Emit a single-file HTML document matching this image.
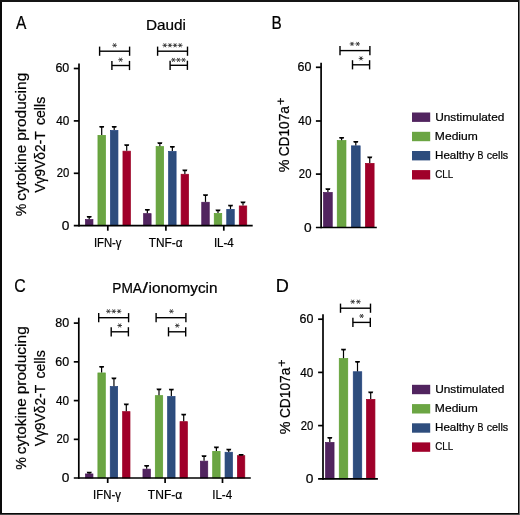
<!DOCTYPE html><html><head><meta charset="utf-8"><style>html,body{margin:0;padding:0;background:#fff;}svg{display:block;will-change:transform;font-family:"Liberation Sans", sans-serif;}text{stroke:#000;stroke-width:0.22px;}</style></head><body><svg width="520" height="515" viewBox="0 0 520 515"><rect x="0" y="0" width="520" height="515" fill="#484848"/><rect x="519" y="0" width="1" height="515" fill="#6e6e6e"/><rect x="0" y="0" width="519" height="514" fill="#0a0a0a"/><rect x="0" y="0" width="519" height="2" fill="#151515"/><rect x="2" y="2" width="516" height="511" fill="#fff"/><rect x="85.45" y="219.55" width="7.50" height="6.15" fill="#51245f" stroke="#4a1858" stroke-width="0.7"/>
<line x1="89.20" y1="217.00" x2="89.20" y2="219.20" stroke="#000" stroke-width="1.2"/>
<path d="M86.70,216.10 L91.70,216.10 L91.20,217.85 L87.20,217.85 Z" fill="#000"/>
<rect x="97.95" y="135.35" width="7.50" height="90.35" fill="#6ba543" stroke="#5c9e30" stroke-width="0.7"/>
<line x1="101.70" y1="126.90" x2="101.70" y2="135.00" stroke="#000" stroke-width="1.2"/>
<path d="M99.20,126.00 L104.20,126.00 L103.70,127.75 L99.70,127.75 Z" fill="#000"/>
<rect x="110.45" y="130.45" width="7.50" height="95.25" fill="#2e4d7d" stroke="#21427c" stroke-width="0.7"/>
<line x1="114.20" y1="126.90" x2="114.20" y2="130.10" stroke="#000" stroke-width="1.2"/>
<path d="M111.70,126.00 L116.70,126.00 L116.20,127.75 L112.20,127.75 Z" fill="#000"/>
<rect x="122.95" y="151.15" width="7.50" height="74.55" fill="#a0002a" stroke="#9c0024" stroke-width="0.7"/>
<line x1="126.70" y1="145.10" x2="126.70" y2="150.80" stroke="#000" stroke-width="1.2"/>
<path d="M124.20,144.20 L129.20,144.20 L128.70,145.95 L124.70,145.95 Z" fill="#000"/>
<rect x="143.60" y="213.65" width="7.50" height="12.05" fill="#51245f" stroke="#4a1858" stroke-width="0.7"/>
<line x1="147.35" y1="209.80" x2="147.35" y2="213.30" stroke="#000" stroke-width="1.2"/>
<path d="M144.85,208.90 L149.85,208.90 L149.35,210.65 L145.35,210.65 Z" fill="#000"/>
<rect x="156.10" y="146.60" width="7.50" height="79.10" fill="#6ba543" stroke="#5c9e30" stroke-width="0.7"/>
<line x1="159.85" y1="143.20" x2="159.85" y2="146.25" stroke="#000" stroke-width="1.2"/>
<path d="M157.35,142.30 L162.35,142.30 L161.85,144.05 L157.85,144.05 Z" fill="#000"/>
<rect x="168.60" y="151.45" width="7.50" height="74.25" fill="#2e4d7d" stroke="#21427c" stroke-width="0.7"/>
<line x1="172.35" y1="146.80" x2="172.35" y2="151.10" stroke="#000" stroke-width="1.2"/>
<path d="M169.85,145.90 L174.85,145.90 L174.35,147.65 L170.35,147.65 Z" fill="#000"/>
<rect x="181.10" y="174.25" width="7.50" height="51.45" fill="#a0002a" stroke="#9c0024" stroke-width="0.7"/>
<line x1="184.85" y1="170.40" x2="184.85" y2="173.90" stroke="#000" stroke-width="1.2"/>
<path d="M182.35,169.50 L187.35,169.50 L186.85,171.25 L182.85,171.25 Z" fill="#000"/>
<rect x="201.75" y="202.25" width="7.50" height="23.45" fill="#51245f" stroke="#4a1858" stroke-width="0.7"/>
<line x1="205.50" y1="195.20" x2="205.50" y2="201.90" stroke="#000" stroke-width="1.2"/>
<path d="M203.00,194.30 L208.00,194.30 L207.50,196.05 L203.50,196.05 Z" fill="#000"/>
<rect x="214.25" y="213.45" width="7.50" height="12.25" fill="#6ba543" stroke="#5c9e30" stroke-width="0.7"/>
<line x1="218.00" y1="210.50" x2="218.00" y2="213.10" stroke="#000" stroke-width="1.2"/>
<path d="M215.50,209.60 L220.50,209.60 L220.00,211.35 L216.00,211.35 Z" fill="#000"/>
<rect x="226.75" y="209.35" width="7.50" height="16.35" fill="#2e4d7d" stroke="#21427c" stroke-width="0.7"/>
<line x1="230.50" y1="205.60" x2="230.50" y2="209.00" stroke="#000" stroke-width="1.2"/>
<path d="M228.00,204.70 L233.00,204.70 L232.50,206.45 L228.50,206.45 Z" fill="#000"/>
<rect x="239.25" y="205.95" width="7.50" height="19.75" fill="#a0002a" stroke="#9c0024" stroke-width="0.7"/>
<line x1="243.00" y1="202.30" x2="243.00" y2="205.60" stroke="#000" stroke-width="1.2"/>
<path d="M240.50,201.40 L245.50,201.40 L245.00,203.15 L241.00,203.15 Z" fill="#000"/>
<line x1="99.60" y1="51.20" x2="129.60" y2="51.20" stroke="#000" stroke-width="1.4"/>
<line x1="99.60" y1="46.60" x2="99.60" y2="55.80" stroke="#000" stroke-width="1.4"/>
<line x1="129.60" y1="46.60" x2="129.60" y2="55.80" stroke="#000" stroke-width="1.4"/>
<line x1="112.30" y1="45.30" x2="116.90" y2="45.30" stroke="#2a2a2a" stroke-width="0.85"/>
<line x1="113.45" y1="43.31" x2="115.75" y2="47.29" stroke="#2a2a2a" stroke-width="0.85"/>
<line x1="113.45" y1="47.29" x2="115.75" y2="43.31" stroke="#2a2a2a" stroke-width="0.85"/>
<line x1="111.90" y1="65.50" x2="129.50" y2="65.50" stroke="#000" stroke-width="1.4"/>
<line x1="111.90" y1="60.90" x2="111.90" y2="70.10" stroke="#000" stroke-width="1.4"/>
<line x1="129.50" y1="60.90" x2="129.50" y2="70.10" stroke="#000" stroke-width="1.4"/>
<line x1="118.30" y1="59.70" x2="122.90" y2="59.70" stroke="#2a2a2a" stroke-width="0.85"/>
<line x1="119.45" y1="57.71" x2="121.75" y2="61.69" stroke="#2a2a2a" stroke-width="0.85"/>
<line x1="119.45" y1="61.69" x2="121.75" y2="57.71" stroke="#2a2a2a" stroke-width="0.85"/>
<line x1="157.60" y1="51.20" x2="187.50" y2="51.20" stroke="#000" stroke-width="1.4"/>
<line x1="157.60" y1="46.60" x2="157.60" y2="55.80" stroke="#000" stroke-width="1.4"/>
<line x1="187.50" y1="46.60" x2="187.50" y2="55.80" stroke="#000" stroke-width="1.4"/>
<line x1="162.50" y1="45.30" x2="167.10" y2="45.30" stroke="#2a2a2a" stroke-width="0.85"/>
<line x1="163.65" y1="43.31" x2="165.95" y2="47.29" stroke="#2a2a2a" stroke-width="0.85"/>
<line x1="163.65" y1="47.29" x2="165.95" y2="43.31" stroke="#2a2a2a" stroke-width="0.85"/>
<line x1="167.65" y1="45.30" x2="172.25" y2="45.30" stroke="#2a2a2a" stroke-width="0.85"/>
<line x1="168.80" y1="43.31" x2="171.10" y2="47.29" stroke="#2a2a2a" stroke-width="0.85"/>
<line x1="168.80" y1="47.29" x2="171.10" y2="43.31" stroke="#2a2a2a" stroke-width="0.85"/>
<line x1="172.80" y1="45.30" x2="177.40" y2="45.30" stroke="#2a2a2a" stroke-width="0.85"/>
<line x1="173.95" y1="43.31" x2="176.25" y2="47.29" stroke="#2a2a2a" stroke-width="0.85"/>
<line x1="173.95" y1="47.29" x2="176.25" y2="43.31" stroke="#2a2a2a" stroke-width="0.85"/>
<line x1="177.95" y1="45.30" x2="182.55" y2="45.30" stroke="#2a2a2a" stroke-width="0.85"/>
<line x1="179.10" y1="43.31" x2="181.40" y2="47.29" stroke="#2a2a2a" stroke-width="0.85"/>
<line x1="179.10" y1="47.29" x2="181.40" y2="43.31" stroke="#2a2a2a" stroke-width="0.85"/>
<line x1="170.10" y1="65.30" x2="187.40" y2="65.30" stroke="#000" stroke-width="1.4"/>
<line x1="170.10" y1="60.70" x2="170.10" y2="69.90" stroke="#000" stroke-width="1.4"/>
<line x1="187.40" y1="60.70" x2="187.40" y2="69.90" stroke="#000" stroke-width="1.4"/>
<line x1="171.10" y1="59.90" x2="175.70" y2="59.90" stroke="#2a2a2a" stroke-width="0.85"/>
<line x1="172.25" y1="57.91" x2="174.55" y2="61.89" stroke="#2a2a2a" stroke-width="0.85"/>
<line x1="172.25" y1="61.89" x2="174.55" y2="57.91" stroke="#2a2a2a" stroke-width="0.85"/>
<line x1="176.15" y1="59.90" x2="180.75" y2="59.90" stroke="#2a2a2a" stroke-width="0.85"/>
<line x1="177.30" y1="57.91" x2="179.60" y2="61.89" stroke="#2a2a2a" stroke-width="0.85"/>
<line x1="177.30" y1="61.89" x2="179.60" y2="57.91" stroke="#2a2a2a" stroke-width="0.85"/>
<line x1="181.20" y1="59.90" x2="185.80" y2="59.90" stroke="#2a2a2a" stroke-width="0.85"/>
<line x1="182.35" y1="57.91" x2="184.65" y2="61.89" stroke="#2a2a2a" stroke-width="0.85"/>
<line x1="182.35" y1="61.89" x2="184.65" y2="57.91" stroke="#2a2a2a" stroke-width="0.85"/>
<rect x="85.55" y="473.95" width="7.40" height="4.05" fill="#51245f" stroke="#4a1858" stroke-width="0.7"/>
<line x1="89.25" y1="472.60" x2="89.25" y2="473.60" stroke="#000" stroke-width="1.2"/>
<path d="M86.75,471.70 L91.75,471.70 L91.25,473.45 L87.25,473.45 Z" fill="#000"/>
<rect x="97.90" y="372.95" width="7.40" height="105.05" fill="#6ba543" stroke="#5c9e30" stroke-width="0.7"/>
<line x1="101.60" y1="366.80" x2="101.60" y2="372.60" stroke="#000" stroke-width="1.2"/>
<path d="M99.10,365.90 L104.10,365.90 L103.60,367.65 L99.60,367.65 Z" fill="#000"/>
<rect x="110.25" y="386.55" width="7.40" height="91.45" fill="#2e4d7d" stroke="#21427c" stroke-width="0.7"/>
<line x1="113.95" y1="378.40" x2="113.95" y2="386.20" stroke="#000" stroke-width="1.2"/>
<path d="M111.45,377.50 L116.45,377.50 L115.95,379.25 L111.95,379.25 Z" fill="#000"/>
<rect x="122.60" y="411.65" width="7.40" height="66.35" fill="#a0002a" stroke="#9c0024" stroke-width="0.7"/>
<line x1="126.30" y1="404.50" x2="126.30" y2="411.30" stroke="#000" stroke-width="1.2"/>
<path d="M123.80,403.60 L128.80,403.60 L128.30,405.35 L124.30,405.35 Z" fill="#000"/>
<rect x="142.95" y="469.15" width="7.40" height="8.85" fill="#51245f" stroke="#4a1858" stroke-width="0.7"/>
<line x1="146.65" y1="465.90" x2="146.65" y2="468.80" stroke="#000" stroke-width="1.2"/>
<path d="M144.15,465.00 L149.15,465.00 L148.65,466.75 L144.65,466.75 Z" fill="#000"/>
<rect x="155.30" y="395.65" width="7.40" height="82.35" fill="#6ba543" stroke="#5c9e30" stroke-width="0.7"/>
<line x1="159.00" y1="389.30" x2="159.00" y2="395.30" stroke="#000" stroke-width="1.2"/>
<path d="M156.50,388.40 L161.50,388.40 L161.00,390.15 L157.00,390.15 Z" fill="#000"/>
<rect x="167.65" y="396.45" width="7.40" height="81.55" fill="#2e4d7d" stroke="#21427c" stroke-width="0.7"/>
<line x1="171.35" y1="389.70" x2="171.35" y2="396.10" stroke="#000" stroke-width="1.2"/>
<path d="M168.85,388.80 L173.85,388.80 L173.35,390.55 L169.35,390.55 Z" fill="#000"/>
<rect x="180.00" y="421.65" width="7.40" height="56.35" fill="#a0002a" stroke="#9c0024" stroke-width="0.7"/>
<line x1="183.70" y1="414.70" x2="183.70" y2="421.30" stroke="#000" stroke-width="1.2"/>
<path d="M181.20,413.80 L186.20,413.80 L185.70,415.55 L181.70,415.55 Z" fill="#000"/>
<rect x="200.35" y="461.15" width="7.40" height="16.85" fill="#51245f" stroke="#4a1858" stroke-width="0.7"/>
<line x1="204.05" y1="456.10" x2="204.05" y2="460.80" stroke="#000" stroke-width="1.2"/>
<path d="M201.55,455.20 L206.55,455.20 L206.05,456.95 L202.05,456.95 Z" fill="#000"/>
<rect x="212.70" y="451.35" width="7.40" height="26.65" fill="#6ba543" stroke="#5c9e30" stroke-width="0.7"/>
<line x1="216.40" y1="447.50" x2="216.40" y2="451.00" stroke="#000" stroke-width="1.2"/>
<path d="M213.90,446.60 L218.90,446.60 L218.40,448.35 L214.40,448.35 Z" fill="#000"/>
<rect x="225.05" y="452.25" width="7.40" height="25.75" fill="#2e4d7d" stroke="#21427c" stroke-width="0.7"/>
<line x1="228.75" y1="449.60" x2="228.75" y2="451.90" stroke="#000" stroke-width="1.2"/>
<path d="M226.25,448.70 L231.25,448.70 L230.75,450.45 L226.75,450.45 Z" fill="#000"/>
<rect x="237.40" y="455.65" width="7.40" height="22.35" fill="#a0002a" stroke="#9c0024" stroke-width="0.7"/>
<line x1="241.10" y1="454.80" x2="241.10" y2="455.30" stroke="#000" stroke-width="1.2"/>
<path d="M238.60,453.90 L243.60,453.90 L243.10,455.65 L239.10,455.65 Z" fill="#000"/>
<line x1="98.70" y1="317.70" x2="128.60" y2="317.70" stroke="#000" stroke-width="1.4"/>
<line x1="98.70" y1="313.10" x2="98.70" y2="322.30" stroke="#000" stroke-width="1.4"/>
<line x1="128.60" y1="313.10" x2="128.60" y2="322.30" stroke="#000" stroke-width="1.4"/>
<line x1="106.10" y1="311.30" x2="110.70" y2="311.30" stroke="#2a2a2a" stroke-width="0.85"/>
<line x1="107.25" y1="309.31" x2="109.55" y2="313.29" stroke="#2a2a2a" stroke-width="0.85"/>
<line x1="107.25" y1="313.29" x2="109.55" y2="309.31" stroke="#2a2a2a" stroke-width="0.85"/>
<line x1="111.45" y1="311.30" x2="116.05" y2="311.30" stroke="#2a2a2a" stroke-width="0.85"/>
<line x1="112.60" y1="309.31" x2="114.90" y2="313.29" stroke="#2a2a2a" stroke-width="0.85"/>
<line x1="112.60" y1="313.29" x2="114.90" y2="309.31" stroke="#2a2a2a" stroke-width="0.85"/>
<line x1="116.80" y1="311.30" x2="121.40" y2="311.30" stroke="#2a2a2a" stroke-width="0.85"/>
<line x1="117.95" y1="309.31" x2="120.25" y2="313.29" stroke="#2a2a2a" stroke-width="0.85"/>
<line x1="117.95" y1="313.29" x2="120.25" y2="309.31" stroke="#2a2a2a" stroke-width="0.85"/>
<line x1="111.20" y1="331.80" x2="128.40" y2="331.80" stroke="#000" stroke-width="1.4"/>
<line x1="111.20" y1="327.20" x2="111.20" y2="336.40" stroke="#000" stroke-width="1.4"/>
<line x1="128.40" y1="327.20" x2="128.40" y2="336.40" stroke="#000" stroke-width="1.4"/>
<line x1="117.40" y1="325.50" x2="122.00" y2="325.50" stroke="#2a2a2a" stroke-width="0.85"/>
<line x1="118.55" y1="323.51" x2="120.85" y2="327.49" stroke="#2a2a2a" stroke-width="0.85"/>
<line x1="118.55" y1="327.49" x2="120.85" y2="323.51" stroke="#2a2a2a" stroke-width="0.85"/>
<line x1="156.10" y1="317.70" x2="185.90" y2="317.70" stroke="#000" stroke-width="1.4"/>
<line x1="156.10" y1="313.10" x2="156.10" y2="322.30" stroke="#000" stroke-width="1.4"/>
<line x1="185.90" y1="313.10" x2="185.90" y2="322.30" stroke="#000" stroke-width="1.4"/>
<line x1="169.10" y1="311.30" x2="173.70" y2="311.30" stroke="#2a2a2a" stroke-width="0.85"/>
<line x1="170.25" y1="309.31" x2="172.55" y2="313.29" stroke="#2a2a2a" stroke-width="0.85"/>
<line x1="170.25" y1="313.29" x2="172.55" y2="309.31" stroke="#2a2a2a" stroke-width="0.85"/>
<line x1="168.50" y1="331.80" x2="185.70" y2="331.80" stroke="#000" stroke-width="1.4"/>
<line x1="168.50" y1="327.20" x2="168.50" y2="336.40" stroke="#000" stroke-width="1.4"/>
<line x1="185.70" y1="327.20" x2="185.70" y2="336.40" stroke="#000" stroke-width="1.4"/>
<line x1="175.00" y1="325.60" x2="179.60" y2="325.60" stroke="#2a2a2a" stroke-width="0.85"/>
<line x1="176.15" y1="323.61" x2="178.45" y2="327.59" stroke="#2a2a2a" stroke-width="0.85"/>
<line x1="176.15" y1="327.59" x2="178.45" y2="323.61" stroke="#2a2a2a" stroke-width="0.85"/>
<rect x="323.55" y="192.45" width="8.70" height="35.05" fill="#51245f" stroke="#4a1858" stroke-width="0.7"/>
<line x1="327.90" y1="189.25" x2="327.90" y2="192.10" stroke="#000" stroke-width="1.2"/>
<path d="M325.40,188.35 L330.40,188.35 L329.90,190.10 L325.90,190.10 Z" fill="#000"/>
<rect x="337.25" y="140.55" width="8.70" height="86.95" fill="#6ba543" stroke="#5c9e30" stroke-width="0.7"/>
<line x1="341.60" y1="137.80" x2="341.60" y2="140.20" stroke="#000" stroke-width="1.2"/>
<path d="M339.10,136.90 L344.10,136.90 L343.60,138.65 L339.60,138.65 Z" fill="#000"/>
<rect x="351.45" y="145.85" width="8.70" height="81.65" fill="#2e4d7d" stroke="#21427c" stroke-width="0.7"/>
<line x1="355.80" y1="142.00" x2="355.80" y2="145.50" stroke="#000" stroke-width="1.2"/>
<path d="M353.30,141.10 L358.30,141.10 L357.80,142.85 L353.80,142.85 Z" fill="#000"/>
<rect x="365.40" y="163.35" width="8.70" height="64.15" fill="#a0002a" stroke="#9c0024" stroke-width="0.7"/>
<line x1="369.75" y1="157.45" x2="369.75" y2="163.00" stroke="#000" stroke-width="1.2"/>
<path d="M367.25,156.55 L372.25,156.55 L371.75,158.30 L367.75,158.30 Z" fill="#000"/>
<line x1="340.00" y1="50.60" x2="369.90" y2="50.60" stroke="#000" stroke-width="1.4"/>
<line x1="340.00" y1="46.00" x2="340.00" y2="55.20" stroke="#000" stroke-width="1.4"/>
<line x1="369.90" y1="46.00" x2="369.90" y2="55.20" stroke="#000" stroke-width="1.4"/>
<line x1="349.70" y1="43.90" x2="354.30" y2="43.90" stroke="#2a2a2a" stroke-width="0.85"/>
<line x1="350.85" y1="41.91" x2="353.15" y2="45.89" stroke="#2a2a2a" stroke-width="0.85"/>
<line x1="350.85" y1="45.89" x2="353.15" y2="41.91" stroke="#2a2a2a" stroke-width="0.85"/>
<line x1="355.40" y1="43.90" x2="360.00" y2="43.90" stroke="#2a2a2a" stroke-width="0.85"/>
<line x1="356.55" y1="41.91" x2="358.85" y2="45.89" stroke="#2a2a2a" stroke-width="0.85"/>
<line x1="356.55" y1="45.89" x2="358.85" y2="41.91" stroke="#2a2a2a" stroke-width="0.85"/>
<line x1="352.50" y1="64.80" x2="369.60" y2="64.80" stroke="#000" stroke-width="1.4"/>
<line x1="352.50" y1="60.20" x2="352.50" y2="69.40" stroke="#000" stroke-width="1.4"/>
<line x1="369.60" y1="60.20" x2="369.60" y2="69.40" stroke="#000" stroke-width="1.4"/>
<line x1="358.70" y1="58.40" x2="363.30" y2="58.40" stroke="#2a2a2a" stroke-width="0.85"/>
<line x1="359.85" y1="56.41" x2="362.15" y2="60.39" stroke="#2a2a2a" stroke-width="0.85"/>
<line x1="359.85" y1="60.39" x2="362.15" y2="56.41" stroke="#2a2a2a" stroke-width="0.85"/>
<rect x="325.55" y="442.45" width="8.50" height="36.45" fill="#51245f" stroke="#4a1858" stroke-width="0.7"/>
<line x1="329.80" y1="438.00" x2="329.80" y2="442.10" stroke="#000" stroke-width="1.2"/>
<path d="M327.30,437.10 L332.30,437.10 L331.80,438.85 L327.80,438.85 Z" fill="#000"/>
<rect x="339.25" y="358.55" width="8.50" height="120.35" fill="#6ba543" stroke="#5c9e30" stroke-width="0.7"/>
<line x1="343.50" y1="349.60" x2="343.50" y2="358.20" stroke="#000" stroke-width="1.2"/>
<path d="M341.00,348.70 L346.00,348.70 L345.50,350.45 L341.50,350.45 Z" fill="#000"/>
<rect x="353.25" y="371.75" width="8.50" height="107.15" fill="#2e4d7d" stroke="#21427c" stroke-width="0.7"/>
<line x1="357.50" y1="361.90" x2="357.50" y2="371.40" stroke="#000" stroke-width="1.2"/>
<path d="M355.00,361.00 L360.00,361.00 L359.50,362.75 L355.50,362.75 Z" fill="#000"/>
<rect x="366.45" y="399.35" width="8.50" height="79.55" fill="#a0002a" stroke="#9c0024" stroke-width="0.7"/>
<line x1="370.70" y1="392.40" x2="370.70" y2="399.00" stroke="#000" stroke-width="1.2"/>
<path d="M368.20,391.50 L373.20,391.50 L372.70,393.25 L368.70,393.25 Z" fill="#000"/>
<line x1="340.50" y1="308.20" x2="370.50" y2="308.20" stroke="#000" stroke-width="1.4"/>
<line x1="340.50" y1="303.60" x2="340.50" y2="312.80" stroke="#000" stroke-width="1.4"/>
<line x1="370.50" y1="303.60" x2="370.50" y2="312.80" stroke="#000" stroke-width="1.4"/>
<line x1="350.40" y1="301.70" x2="355.00" y2="301.70" stroke="#2a2a2a" stroke-width="0.85"/>
<line x1="351.55" y1="299.71" x2="353.85" y2="303.69" stroke="#2a2a2a" stroke-width="0.85"/>
<line x1="351.55" y1="303.69" x2="353.85" y2="299.71" stroke="#2a2a2a" stroke-width="0.85"/>
<line x1="356.10" y1="301.70" x2="360.70" y2="301.70" stroke="#2a2a2a" stroke-width="0.85"/>
<line x1="357.25" y1="299.71" x2="359.55" y2="303.69" stroke="#2a2a2a" stroke-width="0.85"/>
<line x1="357.25" y1="303.69" x2="359.55" y2="299.71" stroke="#2a2a2a" stroke-width="0.85"/>
<line x1="352.90" y1="322.40" x2="370.30" y2="322.40" stroke="#000" stroke-width="1.4"/>
<line x1="352.90" y1="317.80" x2="352.90" y2="327.00" stroke="#000" stroke-width="1.4"/>
<line x1="370.30" y1="317.80" x2="370.30" y2="327.00" stroke="#000" stroke-width="1.4"/>
<line x1="359.30" y1="316.00" x2="363.90" y2="316.00" stroke="#2a2a2a" stroke-width="0.85"/>
<line x1="360.45" y1="314.01" x2="362.75" y2="317.99" stroke="#2a2a2a" stroke-width="0.85"/>
<line x1="360.45" y1="317.99" x2="362.75" y2="314.01" stroke="#2a2a2a" stroke-width="0.85"/>
<rect x="412.00" y="112.50" width="18.20" height="9.40" fill="#51245f"/>
<rect x="412.00" y="131.80" width="18.20" height="9.40" fill="#6ba543"/>
<rect x="412.00" y="151.00" width="18.20" height="9.40" fill="#2e4d7d"/>
<rect x="412.00" y="170.10" width="18.20" height="9.40" fill="#a0002a"/>
<rect x="412.00" y="384.80" width="18.20" height="9.40" fill="#51245f"/>
<rect x="412.00" y="404.10" width="18.20" height="9.40" fill="#6ba543"/>
<rect x="412.00" y="423.30" width="18.20" height="9.40" fill="#2e4d7d"/>
<rect x="412.00" y="442.40" width="18.20" height="9.40" fill="#a0002a"/>
<line x1="79.00" y1="63.50" x2="79.00" y2="226.55" stroke="#000" stroke-width="1.7"/>
<line x1="73.80" y1="225.70" x2="252.70" y2="225.70" stroke="#000" stroke-width="1.7"/>
<line x1="73.80" y1="68.50" x2="79.00" y2="68.50" stroke="#000" stroke-width="1.7"/>
<line x1="73.80" y1="120.90" x2="79.00" y2="120.90" stroke="#000" stroke-width="1.7"/>
<line x1="73.80" y1="173.30" x2="79.00" y2="173.30" stroke="#000" stroke-width="1.7"/>
<line x1="107.80" y1="225.70" x2="107.80" y2="230.70" stroke="#000" stroke-width="1.7"/>
<line x1="165.90" y1="225.70" x2="165.90" y2="230.70" stroke="#000" stroke-width="1.7"/>
<line x1="223.80" y1="225.70" x2="223.80" y2="230.70" stroke="#000" stroke-width="1.7"/>
<line x1="78.80" y1="317.70" x2="78.80" y2="478.85" stroke="#000" stroke-width="1.7"/>
<line x1="73.80" y1="478.00" x2="250.80" y2="478.00" stroke="#000" stroke-width="1.7"/>
<line x1="73.80" y1="323.10" x2="78.80" y2="323.10" stroke="#000" stroke-width="1.7"/>
<line x1="73.80" y1="361.85" x2="78.80" y2="361.85" stroke="#000" stroke-width="1.7"/>
<line x1="73.80" y1="400.60" x2="78.80" y2="400.60" stroke="#000" stroke-width="1.7"/>
<line x1="73.80" y1="439.35" x2="78.80" y2="439.35" stroke="#000" stroke-width="1.7"/>
<line x1="107.70" y1="478.00" x2="107.70" y2="483.00" stroke="#000" stroke-width="1.7"/>
<line x1="165.10" y1="478.00" x2="165.10" y2="483.00" stroke="#000" stroke-width="1.7"/>
<line x1="222.50" y1="478.00" x2="222.50" y2="483.00" stroke="#000" stroke-width="1.7"/>
<line x1="321.10" y1="62.70" x2="321.10" y2="228.35" stroke="#000" stroke-width="1.7"/>
<line x1="315.90" y1="227.50" x2="376.80" y2="227.50" stroke="#000" stroke-width="1.7"/>
<line x1="315.90" y1="67.30" x2="321.10" y2="67.30" stroke="#000" stroke-width="1.7"/>
<line x1="315.90" y1="121.00" x2="321.10" y2="121.00" stroke="#000" stroke-width="1.7"/>
<line x1="315.90" y1="174.10" x2="321.10" y2="174.10" stroke="#000" stroke-width="1.7"/>
<line x1="323.00" y1="314.20" x2="323.00" y2="479.75" stroke="#000" stroke-width="1.7"/>
<line x1="318.10" y1="478.90" x2="377.90" y2="478.90" stroke="#000" stroke-width="1.7"/>
<line x1="318.10" y1="319.20" x2="323.00" y2="319.20" stroke="#000" stroke-width="1.7"/>
<line x1="318.10" y1="372.40" x2="323.00" y2="372.40" stroke="#000" stroke-width="1.7"/>
<line x1="318.10" y1="425.60" x2="323.00" y2="425.60" stroke="#000" stroke-width="1.7"/>
<text x="0" y="0" font-size="18.841" fill="#000" xml:space="preserve" transform="translate(15.90,29.00) scale(0.8240,1.0000)">A</text>
<text x="0" y="0" font-size="18.261" fill="#000" xml:space="preserve" transform="translate(271.44,28.80) scale(0.8410,1.0000)">B</text>
<text x="0" y="0" font-size="18.841" fill="#000" xml:space="preserve" transform="translate(14.36,291.60) scale(0.8417,1.0000)">C</text>
<text x="0" y="0" font-size="19.130" fill="#000" xml:space="preserve" transform="translate(275.68,291.90) scale(0.9478,1.0000)">D</text>
<text x="0" y="0" font-size="14.493" fill="#000" xml:space="preserve" transform="translate(145.88,30.30) scale(1.0573,1.0000)">Daudi</text>
<text x="0" y="0" font-size="14.493" fill="#000" xml:space="preserve" transform="translate(112.32,292.80) scale(0.9455,1.0000)">PMA</text>
<text x="0" y="0" font-size="14.493" fill="#000" xml:space="preserve" transform="translate(142.40,292.80) scale(1.3750,1.0000)">/</text>
<text x="0" y="0" font-size="14.493" fill="#000" xml:space="preserve" transform="translate(148.54,292.80) scale(1.0577,1.0000)">ionomycin</text>
<text x="0" y="0" font-size="12.899" fill="#000" xml:space="preserve" transform="translate(93.90,246.90) scale(0.8760,1.0000)">IFN-γ</text>
<text x="0" y="0" font-size="12.899" fill="#000" xml:space="preserve" transform="translate(148.77,246.90) scale(0.9186,1.0000)">TNF-α</text>
<text x="0" y="0" font-size="12.899" fill="#000" xml:space="preserve" transform="translate(213.88,246.90) scale(0.8964,1.0000)">IL-4</text>
<text x="0" y="0" font-size="12.899" fill="#000" xml:space="preserve" transform="translate(93.10,499.20) scale(0.8826,1.0000)">IFN-γ</text>
<text x="0" y="0" font-size="12.899" fill="#000" xml:space="preserve" transform="translate(147.87,499.20) scale(0.9324,1.0000)">TNF-α</text>
<text x="0" y="0" font-size="12.899" fill="#000" xml:space="preserve" transform="translate(212.18,499.20) scale(0.8964,1.0000)">IL-4</text>
<text x="0" y="0" font-size="15.507" fill="#000" xml:space="preserve" transform="translate(26.00,216.35) rotate(-90) scale(0.9098,1.0000)">%</text>
<text x="0" y="0" font-size="15.507" fill="#000" xml:space="preserve" transform="translate(26.00,200.64) rotate(-90) scale(0.9820,1.0000)">cytokine</text>
<text x="0" y="0" font-size="15.507" fill="#000" xml:space="preserve" transform="translate(26.00,140.80) rotate(-90) scale(1.0008,1.0000)">producing</text>
<text x="0" y="0" font-size="15.507" fill="#000" xml:space="preserve" transform="translate(44.50,192.80) rotate(-90) scale(0.8931,1.0000)">Vγ9Vδ2-T</text>
<text x="0" y="0" font-size="15.507" fill="#000" xml:space="preserve" transform="translate(44.50,125.09) rotate(-90) scale(0.9143,1.0000)">cells</text>
<text x="0" y="0" font-size="15.507" fill="#000" xml:space="preserve" transform="translate(26.00,469.85) rotate(-90) scale(0.9098,1.0000)">%</text>
<text x="0" y="0" font-size="15.507" fill="#000" xml:space="preserve" transform="translate(26.00,454.14) rotate(-90) scale(0.9820,1.0000)">cytokine</text>
<text x="0" y="0" font-size="15.507" fill="#000" xml:space="preserve" transform="translate(26.00,394.30) rotate(-90) scale(1.0008,1.0000)">producing</text>
<text x="0" y="0" font-size="15.507" fill="#000" xml:space="preserve" transform="translate(44.50,446.30) rotate(-90) scale(0.8931,1.0000)">Vγ9Vδ2-T</text>
<text x="0" y="0" font-size="15.507" fill="#000" xml:space="preserve" transform="translate(44.50,378.59) rotate(-90) scale(0.9143,1.0000)">cells</text>
<text x="0" y="0" font-size="15.362" fill="#000" xml:space="preserve" transform="translate(289.00,172.37) rotate(-90) scale(0.9333,1.0000)">%</text>
<text x="0" y="0" font-size="15.362" fill="#000" xml:space="preserve" transform="translate(289.00,156.37) rotate(-90) scale(0.8933,1.0000)">CD107a</text>
<text x="0" y="0" font-size="13.043" fill="#000" xml:space="preserve" transform="translate(284.63,105.09) rotate(-90) scale(0.9846,0.9846)">+</text>
<text x="0" y="0" font-size="15.362" fill="#000" xml:space="preserve" transform="translate(290.40,434.27) rotate(-90) scale(0.9333,1.0000)">%</text>
<text x="0" y="0" font-size="15.362" fill="#000" xml:space="preserve" transform="translate(290.40,418.07) rotate(-90) scale(0.8951,1.0000)">CD107a</text>
<text x="0" y="0" font-size="13.043" fill="#000" xml:space="preserve" transform="translate(286.07,366.68) rotate(-90) scale(0.9692,1.0154)">+</text>
<text x="0" y="0" font-size="11.594" fill="#000" xml:space="preserve" transform="translate(435.13,121.10) scale(1.0249,1.0000)">Unstimulated</text>
<text x="0" y="0" font-size="11.594" fill="#000" xml:space="preserve" transform="translate(434.86,140.20) scale(1.0430,1.0000)">Medium</text>
<text x="0" y="0" font-size="11.594" fill="#000" xml:space="preserve" transform="translate(435.00,159.10) scale(1.0013,1.0000)">Healthy</text>
<text x="0" y="0" font-size="11.594" fill="#000" xml:space="preserve" transform="translate(477.53,159.10) scale(0.7680,1.0000)">B</text>
<text x="0" y="0" font-size="11.594" fill="#000" xml:space="preserve" transform="translate(486.63,159.10) scale(0.9303,1.0000)">cells</text>
<text x="0" y="0" font-size="11.594" fill="#000" xml:space="preserve" transform="translate(435.18,178.40) scale(0.8439,1.0000)">CLL</text>
<text x="0" y="0" font-size="11.594" fill="#000" xml:space="preserve" transform="translate(435.13,393.30) scale(1.0249,1.0000)">Unstimulated</text>
<text x="0" y="0" font-size="11.594" fill="#000" xml:space="preserve" transform="translate(434.86,412.30) scale(1.0430,1.0000)">Medium</text>
<text x="0" y="0" font-size="11.594" fill="#000" xml:space="preserve" transform="translate(435.00,431.20) scale(1.0013,1.0000)">Healthy</text>
<text x="0" y="0" font-size="11.594" fill="#000" xml:space="preserve" transform="translate(477.53,431.20) scale(0.7680,1.0000)">B</text>
<text x="0" y="0" font-size="11.594" fill="#000" xml:space="preserve" transform="translate(486.63,431.20) scale(0.9303,1.0000)">cells</text>
<text x="0" y="0" font-size="11.594" fill="#000" xml:space="preserve" transform="translate(435.18,450.10) scale(0.8439,1.0000)">CLL</text>
<text x="0" y="0" font-size="12.464" fill="#000" xml:space="preserve" transform="translate(61.75,229.80) scale(1.1000,1.0000)">0</text>
<text x="0" y="0" font-size="12.464" fill="#000" xml:space="preserve" transform="translate(56.65,177.30) scale(0.9077,1.0000)">20</text>
<text x="0" y="0" font-size="12.464" fill="#000" xml:space="preserve" transform="translate(56.16,124.85) scale(0.9434,1.0000)">40</text>
<text x="0" y="0" font-size="12.464" fill="#000" xml:space="preserve" transform="translate(55.40,72.30) scale(1.0000,1.0000)">60</text>
<text x="0" y="0" font-size="12.464" fill="#000" xml:space="preserve" transform="translate(303.95,231.60) scale(1.1000,1.0000)">0</text>
<text x="0" y="0" font-size="12.464" fill="#000" xml:space="preserve" transform="translate(298.85,178.20) scale(0.9077,1.0000)">20</text>
<text x="0" y="0" font-size="12.464" fill="#000" xml:space="preserve" transform="translate(298.36,125.10) scale(0.9434,1.0000)">40</text>
<text x="0" y="0" font-size="12.464" fill="#000" xml:space="preserve" transform="translate(297.60,71.40) scale(1.0000,1.0000)">60</text>
<text x="0" y="0" font-size="12.464" fill="#000" xml:space="preserve" transform="translate(61.65,482.10) scale(1.1000,1.0000)">0</text>
<text x="0" y="0" font-size="12.464" fill="#000" xml:space="preserve" transform="translate(56.55,443.40) scale(0.9077,1.0000)">20</text>
<text x="0" y="0" font-size="12.464" fill="#000" xml:space="preserve" transform="translate(56.06,404.70) scale(0.9434,1.0000)">40</text>
<text x="0" y="0" font-size="12.464" fill="#000" xml:space="preserve" transform="translate(55.30,365.95) scale(1.0000,1.0000)">60</text>
<text x="0" y="0" font-size="12.464" fill="#000" xml:space="preserve" transform="translate(55.30,327.20) scale(1.0000,1.0000)">80</text>
<text x="0" y="0" font-size="12.464" fill="#000" xml:space="preserve" transform="translate(305.85,482.90) scale(1.1000,1.0000)">0</text>
<text x="0" y="0" font-size="12.464" fill="#000" xml:space="preserve" transform="translate(300.75,429.70) scale(0.9077,1.0000)">20</text>
<text x="0" y="0" font-size="12.464" fill="#000" xml:space="preserve" transform="translate(300.26,376.50) scale(0.9434,1.0000)">40</text>
<text x="0" y="0" font-size="12.464" fill="#000" xml:space="preserve" transform="translate(299.50,323.30) scale(1.0000,1.0000)">60</text></svg></body></html>
